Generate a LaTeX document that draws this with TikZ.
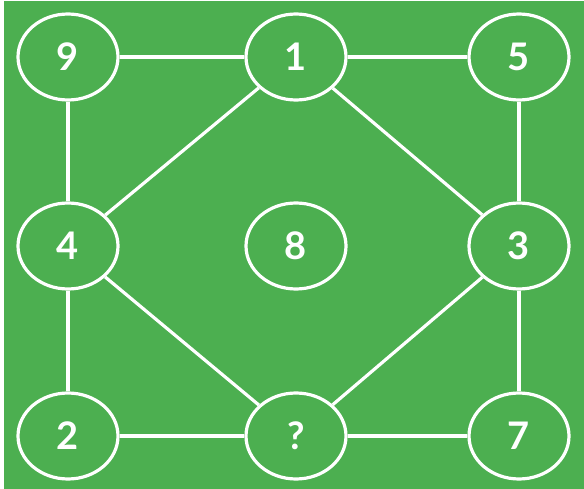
\documentclass[tikz,border=0pt]{standalone}
\usepackage{fontspec}
\setmainfont{Lato}
\usetikzlibrary{shapes.geometric}
\definecolor{bggreen}{HTML}{4CAF50}
\begin{document}
\begin{tikzpicture}[x=1pt,y=-1pt,
  numnode/.style={draw=white,line width=3.2pt,ellipse,minimum width=100pt,minimum height=86pt,inner sep=0pt,
    text=white,font=\bfseries\fontsize{38}{38}\selectfont},
  link/.style={draw=white,line width=3.2pt}]
\useasboundingbox (0,0) rectangle (584,489);
\fill[white] (0,0) rectangle (584,489);
\fill[bggreen] (4,1.5) rectangle (584,489);
\node[numnode] (n9) at (68,57) {9};
\node[numnode] (n1) at (296,57) {1};
\node[numnode] (n5) at (519,57) {5};
\node[numnode] (n4) at (68,246) {4};
\node[numnode] (n8) at (296,246) {8};
\node[numnode] (n3) at (519,246) {3};
\node[numnode] (n2) at (68,436) {2};
\node[numnode] (nq) at (296,436) {?};
\node[numnode] (n7) at (519,436) {7};
\draw[link] (n9) -- (n1);
\draw[link] (n1) -- (n5);
\draw[link] (n9) -- (n4);
\draw[link] (n5) -- (n3);
\draw[link] (n4) -- (n2);
\draw[link] (n3) -- (n7);
\draw[link] (n2) -- (nq);
\draw[link] (nq) -- (n7);
\draw[link] (n1) -- (n4);
\draw[link] (n1) -- (n3);
\draw[link] (n4) -- (nq);
\draw[link] (n3) -- (nq);
\end{tikzpicture}
\end{document}
